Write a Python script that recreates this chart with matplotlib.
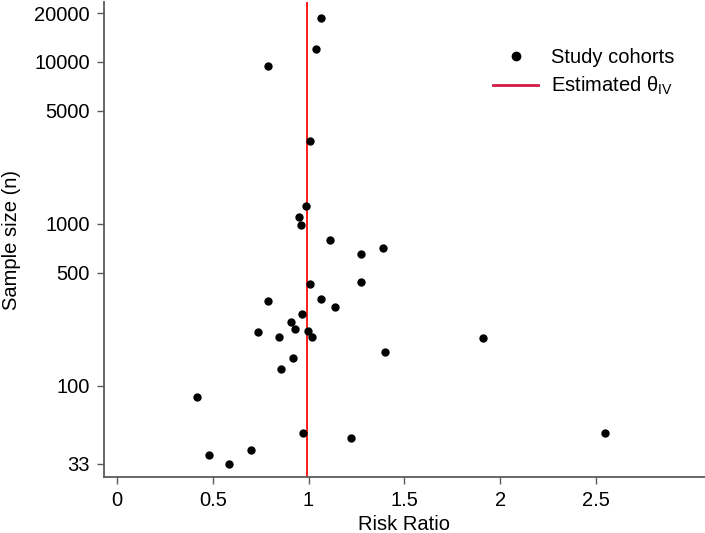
import numpy as np
import matplotlib
matplotlib.use('Agg')
import matplotlib.pyplot as plt
from matplotlib.lines import Line2D

plt.rcParams['font.family'] = ['Liberation Sans', 'DejaVu Sans']
plt.rcParams['mathtext.fontset'] = 'custom'
plt.rcParams['mathtext.rm'] = 'Liberation Sans'
plt.rcParams['mathtext.it'] = 'Liberation Sans'

# study cohorts: risk ratio and sample size
rr = [1.063, 1.039, 0.788, 1.009, 0.985, 0.948, 0.962, 1.112,
      1.387, 1.272, 1.006, 1.066, 1.138, 0.786, 1.272, 0.967,
      0.908, 0.931, 0.738, 0.997, 0.847, 1.016, 0.920, 0.856,
      1.397, 1.910, 0.419, 0.971, 1.222, 2.549, 0.698, 0.478, 0.586]
n = [18620, 12070, 9400, 3237, 1297, 1110, 986, 800,
     708, 653, 426, 344, 306, 335, 439, 277,
     247, 226, 215, 217, 201, 200, 149, 127,
     161, 199, 86, 51, 47.5, 51, 40, 37.7, 33.1]
theta_iv = 0.99

yticks = [33, 100, 500, 1000, 5000, 10000, 20000]
xticks = [0, 0.5, 1, 1.5, 2, 2.5]

fig = plt.figure(figsize=(7.05, 5.33), dpi=100)
ax = fig.add_axes([104/705, 56/533, 1 - 104/705, 475/533])

ax.scatter(rr, n, s=36, color='black', zorder=3, linewidths=0)
ax.axvline(theta_iv, color='#ff1a1a', lw=1.4, zorder=2)

ax.set_yscale('log')
ax.set_ylim(27.4, 23450)
ax.set_xlim(-0.068, 3.07)
ax.set_yticks(yticks)
ax.set_yticklabels([str(v) for v in yticks])
ax.yaxis.set_minor_locator(matplotlib.ticker.NullLocator())
ax.set_xticks(xticks)
ax.set_xticklabels(['0', '0.5', '1', '1.5', '2', '2.5'])

for s in ['top', 'right']:
    ax.spines[s].set_visible(False)
for s in ['left', 'bottom']:
    ax.spines[s].set_color('#5a5a5a')
    ax.spines[s].set_linewidth(1.3)
ax.tick_params(axis='both', colors='#5a5a5a', labelcolor='black',
               length=5, width=1.0, labelsize=14.5, pad=5)

ax.set_xlabel('Risk Ratio', fontsize=14.5, labelpad=4)
ax.set_ylabel('Sample size (n)', fontsize=14.5, labelpad=10)

handles = [Line2D([], [], marker='o', ls='none', color='black', markersize=6),
           Line2D([], [], color='#d01c45', lw=2)]
labels = ['Study cohorts', r'Estimated $\theta_{\mathrm{IV}}$']
fig.legend(handles, labels, loc='upper left',
           bbox_to_anchor=(493/705, 1 - 48/533), frameon=False,
           fontsize=14.5, borderpad=0, borderaxespad=0,
           handlelength=2.25, handletextpad=0.65, labelspacing=0.4)

plt.savefig('out.png', dpi=100)
plt.close()
